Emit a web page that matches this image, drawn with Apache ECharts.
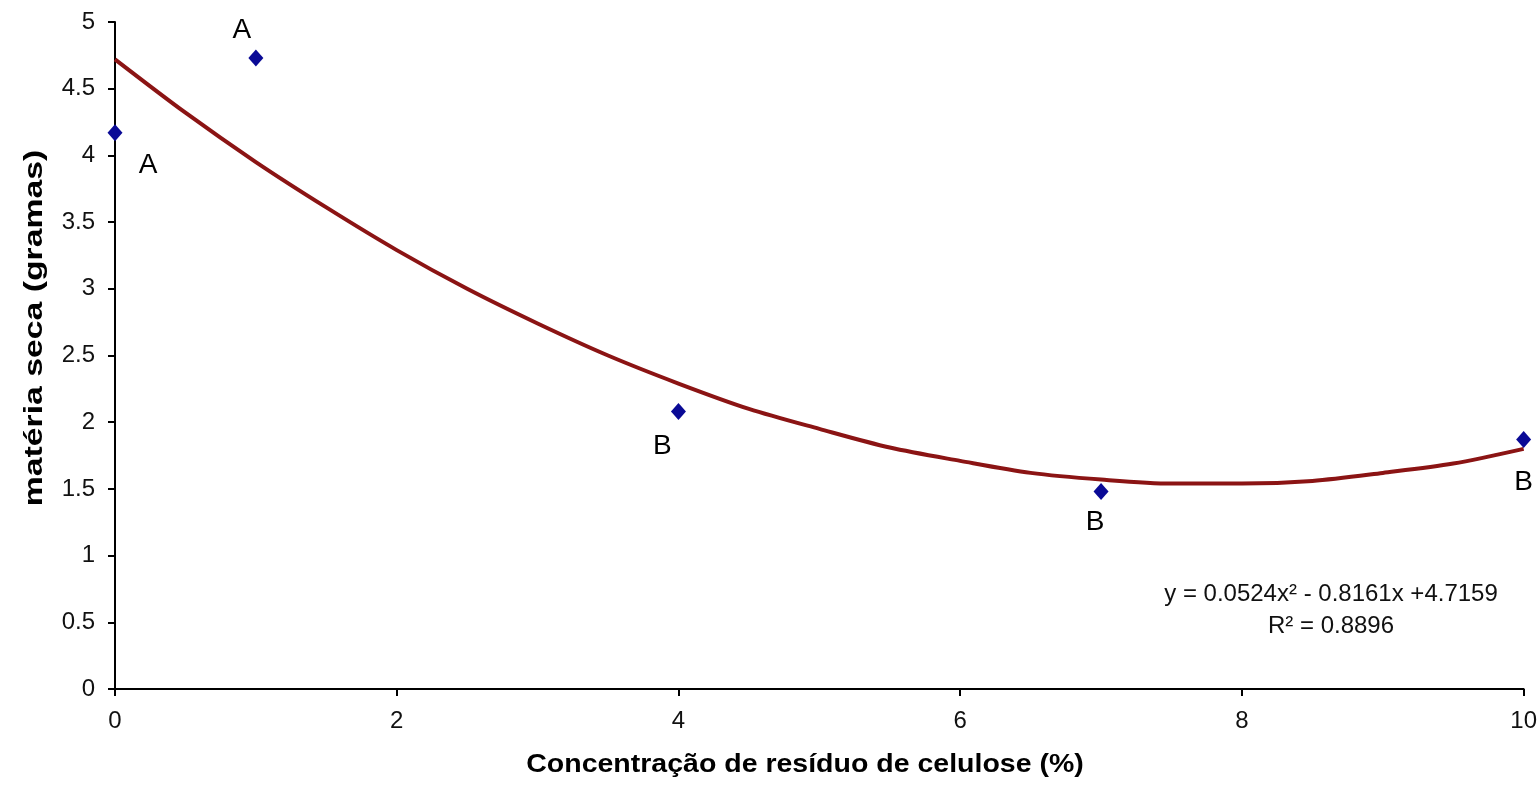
<!DOCTYPE html>
<html>
<head>
<meta charset="utf-8">
<script src="https://cdn.jsdelivr.net/npm/echarts@6/dist/echarts.min.js"></script>
<style>html,body{margin:0;padding:0;background:#fff}#c{width:1540px;height:791px}</style>
</head>
<body>
<div id="c"></div>
<script>
// Observed points
var xValues = [0, 1, 4, 7, 10];
var yValues = [4.17, 4.73, 2.08, 1.48, 1.87];
var pointLetters = ['A', 'A', 'B', 'B', 'B'];
// Trendline
var trendX = [0, 0.5, 1, 1.5, 2, 2.5, 3, 3.5, 4, 4.5, 5, 5.5, 6, 6.5, 7, 7.5, 8, 8.5, 9, 9.5, 10];
var trendY = [4.72, 4.32, 3.95, 3.61, 3.29, 3.00, 2.74, 2.50, 2.29, 2.10, 1.95, 1.81, 1.71, 1.62, 1.57, 1.54, 1.54, 1.56, 1.62, 1.69, 1.80];
var equationText = 'y = 0.0524x\u00B2 - 0.8161x +4.7159';
var r2Text = 'R\u00B2 = 0.8896';
var xTitle = 'Concentração de resíduo de celulose (%)';
var yTitle = 'matéria seca (gramas)';

var letterOffsets = [[33, 33], [-14, -28], [-16, 35], [-6, 31], [0, 43]];

var scatterData = xValues.map(function (x, i) {
  return {
    value: [x, yValues[i]],
    label: {
      show: true,
      formatter: pointLetters[i],
      position: 'inside',
      offset: letterOffsets[i]
    }
  };
});
var trendData = trendX.map(function (x, i) { return [x, trendY[i]]; });

var chart = echarts.init(document.getElementById('c'), null, {renderer: 'canvas'});
var sans = '"Liberation Sans", Arial, sans-serif';
chart.setOption({
  animation: false,
  backgroundColor: '#fff',
  grid: {left: 115, right: 16, top: 22, bottom: 102, containLabel: false},
  xAxis: {
    type: 'value', min: 0, max: 10, interval: 2,
    axisLine: {lineStyle: {color: '#000', width: 2}},
    axisTick: {show: true, length: 7, lineStyle: {color: '#000', width: 2}},
    axisLabel: {fontSize: 24, color: '#111', fontFamily: sans, margin: 20},
    splitLine: {show: false}
  },
  yAxis: {
    type: 'value', min: 0, max: 5, interval: 0.5,
    axisLine: {lineStyle: {color: '#000', width: 2}},
    axisTick: {show: true, length: 7, lineStyle: {color: '#000', width: 2}},
    axisLabel: {fontSize: 24, color: '#111', fontFamily: sans, margin: 20},
    splitLine: {show: false}
  },
  graphic: [
    {type: 'text', x: 805, y: 765, scaleX: 1.14,
      style: {text: xTitle, font: 'bold 25px ' + sans, fill: '#000', textAlign: 'center', textVerticalAlign: 'middle'}},
    {type: 'text', x: 35, y: 328, rotation: Math.PI / 2, scaleX: 1.35,
      style: {text: yTitle, font: 'bold 25px ' + sans, fill: '#000', textAlign: 'center', textVerticalAlign: 'middle'}},
    {type: 'text', x: 1331, y: 594,
      style: {text: equationText, font: '24px ' + sans, fill: '#111', textAlign: 'center', textVerticalAlign: 'middle'}},
    {type: 'text', x: 1331, y: 626,
      style: {text: r2Text, font: '24px ' + sans, fill: '#111', textAlign: 'center', textVerticalAlign: 'middle'}}
  ],
  series: [
    {
      type: 'line', data: trendData, smooth: 0.3, showSymbol: false, symbol: 'none',
      lineStyle: {color: '#8B1414', width: 4}, z: 2
    },
    {
      type: 'scatter', data: scatterData, symbol: 'diamond', symbolSize: [15, 17],
      itemStyle: {color: '#0A0A96', opacity: 1},
      label: {show: true, position: 'inside', fontSize: 28, fontFamily: sans, color: '#000', opacity: 1},
      z: 3
    }
  ]
});
</script>
</body>
</html>
